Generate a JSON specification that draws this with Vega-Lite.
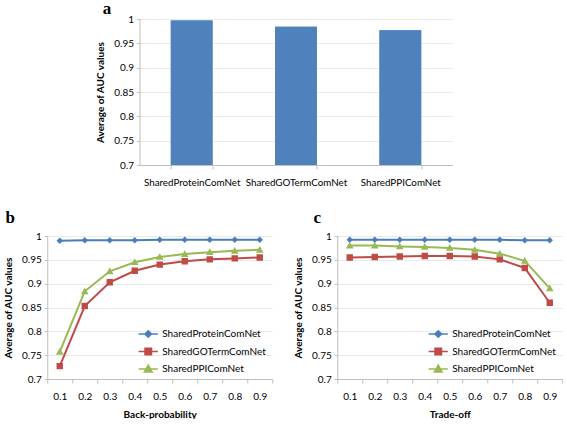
{
  "$schema": "https://vega.github.io/schema/vega-lite/v6.json",
  "background": "white",
  "padding": {"left": 3, "top": 0, "right": 0, "bottom": 0},
  "center": true,
  "spacing": 22,
  "resolve": {"scale": {"color": "independent", "shape": "independent"}, "legend": {"color": "independent", "shape": "independent"}},
  "datasets": {
    "bars": [
      {"method": "SharedProteinComNet", "auc": 0.997},
      {"method": "SharedGOTermComNet", "auc": 0.984},
      {"method": "SharedPPIComNet", "auc": 0.977}
    ],
    "back": [
      {"p": "0.1", "s": "SharedProteinComNet", "v": 0.990},
      {"p": "0.2", "s": "SharedProteinComNet", "v": 0.991},
      {"p": "0.3", "s": "SharedProteinComNet", "v": 0.991},
      {"p": "0.4", "s": "SharedProteinComNet", "v": 0.991},
      {"p": "0.5", "s": "SharedProteinComNet", "v": 0.992},
      {"p": "0.6", "s": "SharedProteinComNet", "v": 0.992},
      {"p": "0.7", "s": "SharedProteinComNet", "v": 0.992},
      {"p": "0.8", "s": "SharedProteinComNet", "v": 0.992},
      {"p": "0.9", "s": "SharedProteinComNet", "v": 0.992},
      {"p": "0.1", "s": "SharedGOTermComNet", "v": 0.727},
      {"p": "0.2", "s": "SharedGOTermComNet", "v": 0.853},
      {"p": "0.3", "s": "SharedGOTermComNet", "v": 0.903},
      {"p": "0.4", "s": "SharedGOTermComNet", "v": 0.927},
      {"p": "0.5", "s": "SharedGOTermComNet", "v": 0.940},
      {"p": "0.6", "s": "SharedGOTermComNet", "v": 0.947},
      {"p": "0.7", "s": "SharedGOTermComNet", "v": 0.951},
      {"p": "0.8", "s": "SharedGOTermComNet", "v": 0.953},
      {"p": "0.9", "s": "SharedGOTermComNet", "v": 0.955},
      {"p": "0.1", "s": "SharedPPIComNet", "v": 0.757},
      {"p": "0.2", "s": "SharedPPIComNet", "v": 0.884},
      {"p": "0.3", "s": "SharedPPIComNet", "v": 0.926},
      {"p": "0.4", "s": "SharedPPIComNet", "v": 0.945},
      {"p": "0.5", "s": "SharedPPIComNet", "v": 0.956},
      {"p": "0.6", "s": "SharedPPIComNet", "v": 0.962},
      {"p": "0.7", "s": "SharedPPIComNet", "v": 0.966},
      {"p": "0.8", "s": "SharedPPIComNet", "v": 0.969},
      {"p": "0.9", "s": "SharedPPIComNet", "v": 0.971}
    ],
    "trade": [
      {"p": "0.1", "s": "SharedProteinComNet", "v": 0.992},
      {"p": "0.2", "s": "SharedProteinComNet", "v": 0.992},
      {"p": "0.3", "s": "SharedProteinComNet", "v": 0.992},
      {"p": "0.4", "s": "SharedProteinComNet", "v": 0.992},
      {"p": "0.5", "s": "SharedProteinComNet", "v": 0.992},
      {"p": "0.6", "s": "SharedProteinComNet", "v": 0.992},
      {"p": "0.7", "s": "SharedProteinComNet", "v": 0.992},
      {"p": "0.8", "s": "SharedProteinComNet", "v": 0.991},
      {"p": "0.9", "s": "SharedProteinComNet", "v": 0.991},
      {"p": "0.1", "s": "SharedGOTermComNet", "v": 0.955},
      {"p": "0.2", "s": "SharedGOTermComNet", "v": 0.956},
      {"p": "0.3", "s": "SharedGOTermComNet", "v": 0.957},
      {"p": "0.4", "s": "SharedGOTermComNet", "v": 0.958},
      {"p": "0.5", "s": "SharedGOTermComNet", "v": 0.958},
      {"p": "0.6", "s": "SharedGOTermComNet", "v": 0.957},
      {"p": "0.7", "s": "SharedGOTermComNet", "v": 0.951},
      {"p": "0.8", "s": "SharedGOTermComNet", "v": 0.933},
      {"p": "0.9", "s": "SharedGOTermComNet", "v": 0.860},
      {"p": "0.1", "s": "SharedPPIComNet", "v": 0.980},
      {"p": "0.2", "s": "SharedPPIComNet", "v": 0.980},
      {"p": "0.3", "s": "SharedPPIComNet", "v": 0.978},
      {"p": "0.4", "s": "SharedPPIComNet", "v": 0.977},
      {"p": "0.5", "s": "SharedPPIComNet", "v": 0.975},
      {"p": "0.6", "s": "SharedPPIComNet", "v": 0.971},
      {"p": "0.7", "s": "SharedPPIComNet", "v": 0.963},
      {"p": "0.8", "s": "SharedPPIComNet", "v": 0.948},
      {"p": "0.9", "s": "SharedPPIComNet", "v": 0.890}
    ]
  },
  "vconcat": [
    {
      "width": 313,
      "height": 146,
      "title": {"text": "a", "offset": -4, "dx": 7},
      "data": {"name": "bars"},
      "layer": [
        {
          "mark": {"type": "bar", "color": "#4F81BD"},
          "encoding": {
            "x": {"field": "method", "type": "nominal", "sort": null, "title": null,
                  "scale": {"paddingInner": 0.6, "paddingOuter": 0.3},
                  "axis": {"labelAngle": 0, "tickBand": "extent", "tickSize": 4, "labelPadding": 8, "labelFontSize": 9.8}},
            "y": {"field": "auc", "type": "quantitative", "title": "Average of AUC values",
                  "scale": {"domain": [0.7, 1], "zero": false, "nice": false},
                  "axis": {"values": [0.7, 0.75, 0.8, 0.85, 0.9, 0.95, 1], "format": ".2~f", "titlePadding": 8}},
            "y2": {"datum": 0.7}
          }
        },
        {
          "mark": {"type": "bar", "color": "#4F81BD"},
          "encoding": {
            "x": {"field": "method", "type": "nominal", "sort": null, "title": null},
            "y": {"field": "auc", "type": "quantitative",
                  "scale": {"domain": [0.7, 1], "zero": false, "nice": false},
                  "axis": {"orient": "right", "title": " ", "labels": false, "ticks": false, "domain": false, "grid": false, "titlePadding": 8}},
            "y2": {"datum": 0.7}
          }
        }
      ],
      "resolve": {"axis": {"y": "independent"}}
    },
    {
      "spacing": 20,
      "resolve": {"scale": {"color": "independent", "shape": "independent"}, "legend": {"color": "independent", "shape": "independent"}},
      "hconcat": [
        {
          "width": 225,
          "height": 143,
          "title": {"text": "b", "offset": 4, "dx": 2},
          "data": {"name": "back"},
          "encoding": {
            "x": {"field": "p", "type": "ordinal", "title": "Back-probability",
                  "scale": {"type": "band", "paddingInner": 0, "paddingOuter": 0},
                  "axis": {"labelAngle": 0, "tickBand": "extent", "tickSize": 4, "labelPadding": 8, "titlePadding": 8}},
            "y": {"field": "v", "type": "quantitative", "title": "Average of AUC values",
                  "scale": {"domain": [0.7, 1], "zero": false, "nice": false},
                  "axis": {"values": [0.7, 0.75, 0.8, 0.85, 0.9, 0.95, 1], "format": ".2~f", "titlePadding": 8}},
            "color": {"field": "s", "type": "nominal", "sort": ["SharedProteinComNet", "SharedGOTermComNet", "SharedPPIComNet"],
                      "scale": {"domain": ["SharedProteinComNet", "SharedGOTermComNet", "SharedPPIComNet"], "range": ["#4A7EBB", "#BE4B48", "#98B954"]},
                      "legend": {
                        "orient": "none", "legendX": 92, "legendY": 89, "title": null, "padding": 0,
                        "symbolSize": 256, "symbolStrokeWidth": 1.6, "rowPadding": 1.5, "labelOffset": 5
                      }}
          },
          "layer": [
            {"mark": {"type": "line", "strokeWidth": 2}},
            {"mark": {"type": "point", "filled": true, "opacity": 1, "size": 256},
             "encoding": {
               "shape": {"field": "s", "type": "nominal", "legend": null,
                         "scale": {"domain": ["SharedProteinComNet", "SharedGOTermComNet", "SharedPPIComNet"],
                                   "range": ["M-1.2,0H1.2M0,-0.4L0.4,0L0,0.4L-0.4,0Z", "M-1.2,0H1.2M-0.4,-0.4H0.4V0.4H-0.4Z", "M-1.2,0H1.2M0,-0.48L0.48,0.36H-0.48Z"]}}
             }}
          ]
        },
        {
          "width": 225,
          "height": 143,
          "title": {"text": "c", "offset": 4, "dx": 20},
          "data": {"name": "trade"},
          "encoding": {
            "x": {"field": "p", "type": "ordinal", "title": "Trade-off",
                  "scale": {"type": "band", "paddingInner": 0, "paddingOuter": 0},
                  "axis": {"labelAngle": 0, "tickBand": "extent", "tickSize": 4, "labelPadding": 8, "titlePadding": 8}},
            "y": {"field": "v", "type": "quantitative", "title": "Average of AUC values",
                  "scale": {"domain": [0.7, 1], "zero": false, "nice": false},
                  "axis": {"values": [0.7, 0.75, 0.8, 0.85, 0.9, 0.95, 1], "format": ".2~f", "titlePadding": 8}},
            "color": {"field": "s", "type": "nominal", "sort": ["SharedProteinComNet", "SharedGOTermComNet", "SharedPPIComNet"],
                      "scale": {"domain": ["SharedProteinComNet", "SharedGOTermComNet", "SharedPPIComNet"], "range": ["#4A7EBB", "#BE4B48", "#98B954"]},
                      "legend": {
                        "orient": "none", "legendX": 92, "legendY": 89, "title": null, "padding": 0,
                        "symbolSize": 256, "symbolStrokeWidth": 1.6, "rowPadding": 1.5, "labelOffset": 5
                      }}
          },
          "layer": [
            {"mark": {"type": "line", "strokeWidth": 2}},
            {"mark": {"type": "point", "filled": true, "opacity": 1, "size": 256},
             "encoding": {
               "shape": {"field": "s", "type": "nominal", "legend": null,
                         "scale": {"domain": ["SharedProteinComNet", "SharedGOTermComNet", "SharedPPIComNet"],
                                   "range": ["M-1.2,0H1.2M0,-0.4L0.4,0L0,0.4L-0.4,0Z", "M-1.2,0H1.2M-0.4,-0.4H0.4V0.4H-0.4Z", "M-1.2,0H1.2M0,-0.48L0.48,0.36H-0.48Z"]}}
             }}
          ]
        }
      ]
    }
  ],
  "config": {
    "font": "Lato",
    "view": {"stroke": null},
    "title": {"font": "Liberation Serif", "fontSize": 17, "fontWeight": "bold", "anchor": "start", "frame": "bounds", "color": "#000"},
    "axis": {
      "labelFont": "Lato", "labelFontSize": 10, "labelColor": "#000",
      "titleFont": "Lato", "titleFontSize": 10, "titleFontWeight": "bold", "titleColor": "#000",
      "domainColor": "#BFBFBF", "tickColor": "#BFBFBF", "tickSize": 3, "gridColor": "#EAEAEA", "labelPadding": 3
    },
    "axisX": {"grid": false},
    "axisY": {"grid": true},
    "legend": {"labelFont": "Lato", "labelFontSize": 10, "labelColor": "#000"}
  }
}
